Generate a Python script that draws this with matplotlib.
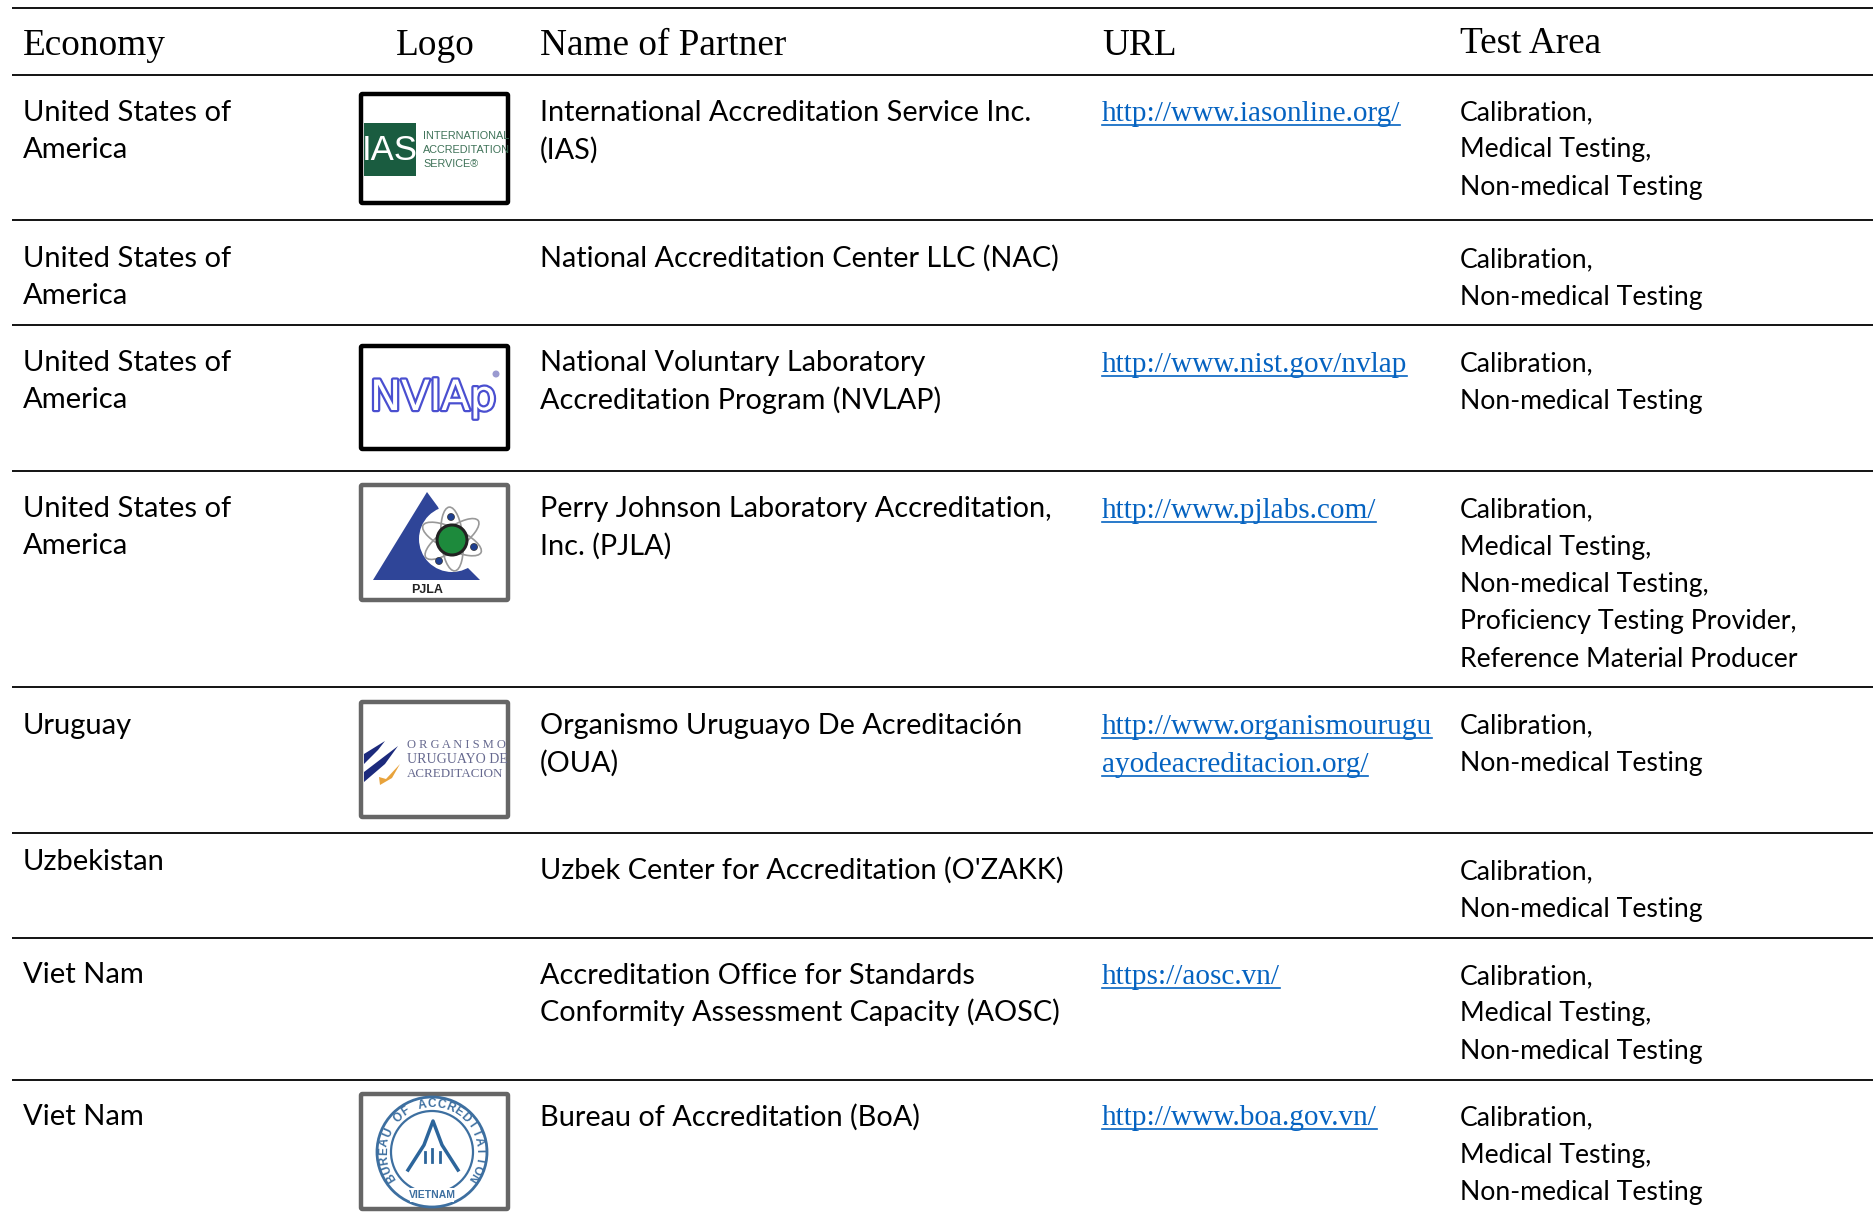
#!/usr/bin/env python3
import numpy as np
import matplotlib
matplotlib.use('Agg')
import matplotlib.pyplot as plt
import matplotlib.patheffects as pe
from matplotlib.patches import Rectangle, FancyBboxPatch, Polygon, Circle, Ellipse

# table content
headers = ['Economy', 'Logo', 'Name of Partner', 'URL', 'Test Area']
economies = [['United States of', 'America'], ['United States of', 'America'],
             ['United States of', 'America'], ['United States of', 'America'],
             ['Uruguay'], ['Uzbekistan'], ['Viet Nam'], ['Viet Nam']]
partners = [['International Accreditation Service Inc.', '(IAS)'],
            ['National Accreditation Center LLC (NAC)'],
            ['National Voluntary Laboratory', 'Accreditation Program (NVLAP)'],
            ['Perry Johnson Laboratory Accreditation,', 'Inc. (PJLA)'],
            ['Organismo Uruguayo De Acreditación', '(OUA)'],
            ["Uzbek Center for Accreditation (O'ZAKK)"],
            ['Accreditation Office for Standards', 'Conformity Assessment Capacity (AOSC)'],
            ['Bureau of Accreditation (BoA)']]
urls = [['http://www.iasonline.org/'], [], ['http://www.nist.gov/nvlap'],
        ['http://www.pjlabs.com/'],
        ['http://www.organismourugu', 'ayodeacreditacion.org/'], [],
        ['https://aosc.vn/'], ['http://www.boa.gov.vn/']]
areas = [['Calibration,', 'Medical Testing,', 'Non-medical Testing'],
         ['Calibration,', 'Non-medical Testing'],
         ['Calibration,', 'Non-medical Testing'],
         ['Calibration,', 'Medical Testing,', 'Non-medical Testing,',
          'Proficiency Testing Provider,', 'Reference Material Producer'],
         ['Calibration,', 'Non-medical Testing'],
         ['Calibration,', 'Non-medical Testing'],
         ['Calibration,', 'Medical Testing,', 'Non-medical Testing'],
         ['Calibration,', 'Medical Testing,', 'Non-medical Testing']]

# layout, in pixels of the 1874x1219 page
rule_y = [8, 75, 220, 325, 471, 687, 833, 938, 1080]
col_x = [23, 435, 540, 1102, 1460]
econ_y = [121, 267, 371, 517, 734, 870, 983, 1125]
name_y = [121, 267, 371, 517, 734, 879, 984, 1126]
url_y = [121, 0, 372, 518, 734, 0, 984, 1125]
area_y = [120, 267, 371, 517, 733, 879, 984, 1125]

sans = 'Lato'
serif = 'Liberation Serif'
econ_size = 21
name_size = 20.8
area_size = 19.2
url_size = 21.1
link_color = '#0563C1'
line_h = 37.5

fig = plt.figure(figsize=(18.74, 12.19), dpi=100)
ax = fig.add_axes([0, 0, 1, 1])
ax.set_xlim(0, 1874)
ax.set_ylim(1219, 0)
ax.axis('off')

for y in rule_y:
    ax.plot([12, 1874], [y, y], color='black', lw=1.3, solid_capstyle='butt')

# header row
for i, h in enumerate(headers):
    yy = 55 if i < 4 else 53
    ax.text(col_x[i], yy, h, family=serif, fontsize=26.8,
            ha='center' if i == 1 else 'left', va='baseline', color='black')


def put_lines(x, y, lines, size, step=line_h):
    for k, s in enumerate(lines):
        ax.text(x, y + k * step, s, family=sans, fontsize=size, va='baseline', color='black')


for i in range(8):
    put_lines(col_x[0], econ_y[i], economies[i], econ_size)
    put_lines(col_x[2], name_y[i], partners[i], name_size)
    put_lines(col_x[4], area_y[i], areas[i], area_size)

# links, with the underline taken from the drawn text width
fig.canvas.draw()
rend = fig.canvas.get_renderer()
for i in range(8):
    for k, s in enumerate(urls[i]):
        yy = url_y[i] + k * line_h
        t = ax.text(col_x[3], yy, s, family=serif, fontsize=url_size, va='baseline', color=link_color)
        w = t.get_window_extent(rend).width
        ax.plot([col_x[3], col_x[3] + w], [yy + 4, yy + 4], color=link_color, lw=1.2)


def logo_frame(x0, y0, x1, y1, color, lw):
    ax.add_patch(FancyBboxPatch((x0, y0), x1 - x0, y1 - y0, boxstyle='round,pad=0,rounding_size=1.5',
                                fc='white', ec=color, lw=lw, zorder=2))


# IAS logo
logo_frame(361, 94, 508, 203, 'black', 3.2)
ax.add_patch(Rectangle((364, 123), 52, 53, fc='#1a5c40', ec='none', zorder=3))
ax.text(390, 150, 'IAS', family='Liberation Sans', fontsize=25, color='white',
        ha='center', va='center', zorder=4)
for k, s in enumerate(['INTERNATIONAL', 'ACCREDITATION', 'SERVICE®']):
    ax.text(423, 136 + k * 14, s, family='Liberation Sans', fontsize=7.8, color='#3f7258',
            va='center', zorder=4)

# NVLAP logo
logo_frame(361, 346, 508, 449, 'black', 3.2)
ax.text(433, 398, 'NVlAp', family='DejaVu Sans', fontsize=30, color='white', ha='center', va='center',
        zorder=4, path_effects=[pe.withStroke(linewidth=3.2, foreground='#4a4fd0')])
ax.add_patch(Circle((496, 374), 3.5, fc='#9a9ad0', ec='none', zorder=4))

# PJLA logo
logo_frame(361, 485, 508, 600, '#666666', 3.2)
ax.add_patch(Polygon([[427, 492], [373, 580], [480, 580], [468, 568], [452, 540], [438, 507]],
                     fc='#2f4598', ec='none', zorder=3))
ax.add_patch(Circle((452, 539), 33, fc='white', ec='none', zorder=4))
for ang in [25, 85, 145]:
    ax.add_patch(Ellipse((452, 539), 64, 22, angle=ang, fc='none', ec='#999999', lw=1.2, zorder=5))
ax.add_patch(Circle((452, 540), 15, fc='#1d8a3c', ec='#222222', lw=2.2, zorder=6))
for px, py in [[451, 517], [474, 547], [439, 561]]:
    ax.add_patch(Circle((px, py), 3.5, fc='#1f3f8f', ec='#333333', lw=0.5, zorder=6))
ax.text(427, 590, 'PJLA', family='Liberation Sans', fontsize=9, weight='bold', color='#222222',
        ha='center', va='center', zorder=5)

# OUA logo
logo_frame(361, 702, 508, 817, '#666666', 3.2)
ax.add_patch(Polygon([[364, 754], [385, 741], [378, 750], [364, 764]], fc='#1c2a7c', ec='none', zorder=3))
ax.add_patch(Polygon([[364, 772], [398, 746], [385, 764], [364, 782]], fc='#1c2a7c', ec='none', zorder=3))
ax.add_patch(Polygon([[379, 777], [386, 779], [400, 764], [392, 778], [380, 785]],
                     fc='#e8a33c', ec='none', zorder=3))
oua_lines = ['O R G A N I S M O', 'URUGUAYO DE', 'ACREDITACION']
oua_sizes = [9, 10, 9.4]
for k, s in enumerate(oua_lines):
    ax.text(407, 745 + k * 14.5, s, family=serif, fontsize=oua_sizes[k], color='#66698f',
            va='center', zorder=4)

# BoA logo
logo_frame(361, 1094, 508, 1209, '#666666', 3.2)
cx, cy = 432, 1152
ax.add_patch(Circle((cx, cy), 55, fc='none', ec='#3d6fa0', lw=2, zorder=3))
ax.add_patch(Circle((cx, cy), 41, fc='none', ec='#3d6fa0', lw=1.6, zorder=3))
ring = 'BUREAU OF ACCREDITATION'
for a, ch in zip(np.linspace(212, -32, len(ring)), ring):
    ax.text(cx + 48 * np.cos(np.radians(a)), cy - 48 * np.sin(np.radians(a)), ch, family='Liberation Sans',
            fontsize=8.5, weight='bold', color='#3d6fa0', rotation=a - 90, ha='center', va='center', zorder=4)
ax.add_patch(Rectangle((cx - 22, 1188), 44, 14, fc='white', ec='none', zorder=3.5))
ax.text(cx, 1195, 'VIETNAM', family='Liberation Sans', fontsize=7.5, weight='bold', color='#3d6fa0',
        ha='center', va='center', zorder=4)
ax.plot([408, 424, 433, 442, 458], [1170, 1145, 1121, 1145, 1170], color='#2c659b', lw=2.5, zorder=4)
for bx, h in [[425, 10], [432, 13], [440, 10]]:
    ax.plot([bx, bx], [1162, 1162 - h], color='#2c659b', lw=2, zorder=4)

fig.savefig('out.png', dpi=100, facecolor='white')
